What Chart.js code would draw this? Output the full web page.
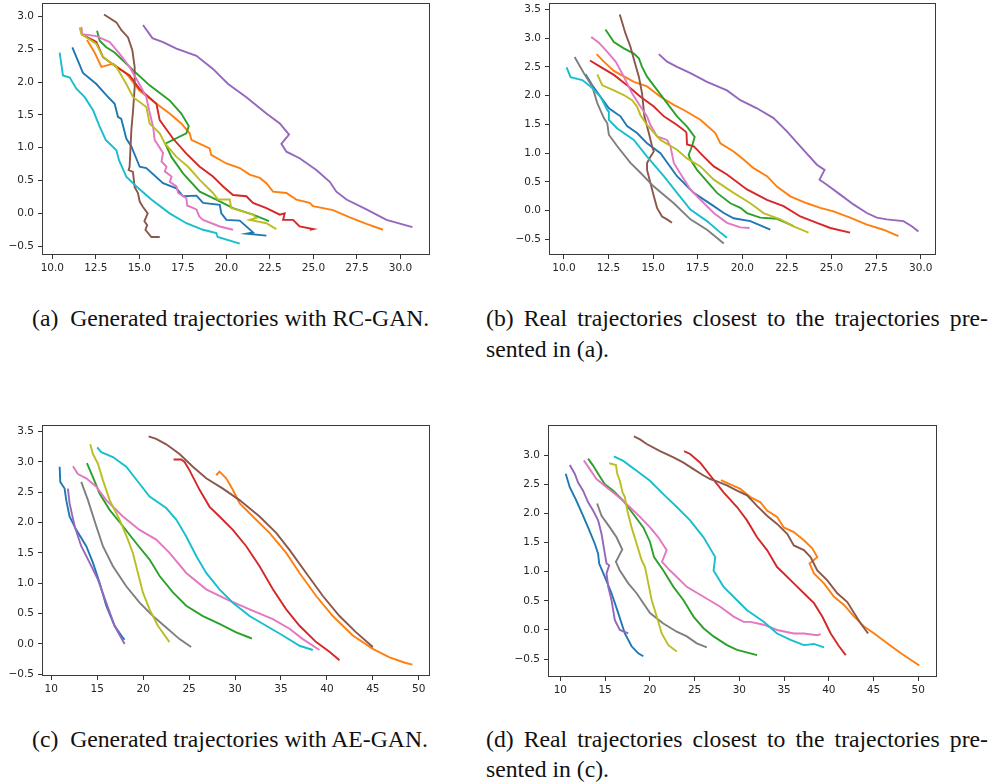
<!DOCTYPE html>
<html><head><meta charset="utf-8">
<script src="https://cdn.jsdelivr.net/npm/chart.js@4.4.1/dist/chart.umd.min.js"></script>
<style>
html,body{margin:0;padding:0;background:#fff;width:994px;height:782px;overflow:hidden}
body{position:relative}
canvas{position:absolute}
.cap{position:absolute;font-family:'Liberation Serif','Times New Roman',serif;font-size:23.7px;line-height:30px;color:#111;white-space:nowrap}
.just{white-space:normal;text-align:justify;text-align-last:justify}
</style></head><body>
<div class="cap" style="left:32px;top:303px;">(a)&ensp;Generated trajectories with RC-GAN.</div>
<div class="cap just" style="left:486px;top:303px;width:502px;">(b) Real trajectories closest to the trajectories pre-</div>
<div class="cap" style="left:486px;top:334px;">sented in (a).</div>
<div class="cap" style="left:32px;top:724px;">(c)&ensp;Generated trajectories with AE-GAN.</div>
<div class="cap just" style="left:486px;top:724px;width:502px;">(d) Real trajectories closest to the trajectories pre-</div>
<div class="cap" style="left:486px;top:754px;">sented in (c).</div>
<script>
// ---------- tick values & labels ----------
const abXTicks = [10, 12.5, 15, 17.5, 20, 22.5, 25, 27.5, 30];
const abXLabels = ['10.0','12.5','15.0','17.5','20.0','22.5','25.0','27.5','30.0'];
const aYTicks = [-0.5, 0, 0.5, 1, 1.5, 2, 2.5, 3];
const aYLabels = ['\u22120.5','0.0','0.5','1.0','1.5','2.0','2.5','3.0'];
const bcYTicks = [-0.5, 0, 0.5, 1, 1.5, 2, 2.5, 3, 3.5];
const bcYLabels = ['\u22120.5','0.0','0.5','1.0','1.5','2.0','2.5','3.0','3.5'];
const cdXTicks = [10, 15, 20, 25, 30, 35, 40, 45, 50];
const cdXLabels = ['10','15','20','25','30','35','40','45','50'];
const dYTicks = [-0.5, 0, 0.5, 1, 1.5, 2, 2.5, 3];
const dYLabels = ['\u22120.5','0.0','0.5','1.0','1.5','2.0','2.5','3.0'];

// ---------- (a) generated with RC-GAN ----------
const aBlue = [[11.15,2.53],[11.76,2.14],[12.53,1.97],[13.1,1.8],[13.58,1.67],[13.77,1.47],[13.96,1.44],[14.25,1.14],[14.54,1.02],[15.02,0.71],[15.4,0.69],[16.36,0.46],[17.13,0.38],[17.51,0.26],[18.28,0.27],[18.66,0.16],[19.62,0.13],[19.71,0.0],[20.0,-0.1],[20.77,-0.11],[21.53,-0.29],[21.15,-0.31],[22.3,-0.34]];
const aOrange = [[11.99,2.64],[12.43,2.45],[12.82,2.23],[13.49,2.28],[14.25,2.13],[15.0,1.87],[15.98,1.67],[16.74,1.52],[17.41,1.37],[17.89,1.22],[17.99,1.12],[19.04,0.99],[19.13,0.89],[20.0,0.76],[20.77,0.69],[21.34,0.59],[21.92,0.54],[22.3,0.46],[22.68,0.33],[23.45,0.31],[24.02,0.21],[24.79,0.16],[24.98,0.11],[26.13,0.05],[27.09,-0.06],[28.05,-0.16],[29.0,-0.25]];
const aGreen = [[12.57,2.78],[12.72,2.63],[13.1,2.53],[13.58,2.45],[14.64,2.18],[15.59,1.95],[16.74,1.72],[17.41,1.52],[17.84,1.33],[17.7,1.22],[16.49,1.06],[16.84,0.86],[17.51,0.61],[18.47,0.33],[19.42,0.21],[20.38,0.08],[21.53,-0.02],[22.45,-0.12]];
const aRed = [[11.67,2.73],[12.53,2.61],[12.91,2.38],[13.68,2.23],[14.44,2.1],[15.0,1.9],[15.98,1.67],[16.17,1.42],[16.93,1.14],[17.7,0.91],[18.47,0.71],[19.23,0.56],[19.81,0.41],[20.38,0.28],[21.15,0.26],[21.53,0.16],[22.3,0.08],[23.07,-0.02],[23.35,0.0],[23.26,-0.1],[23.83,-0.1],[24.21,-0.2],[24.98,-0.24],[24.79,-0.25]];
const aPurple = [[15.21,2.87],[15.75,2.67],[16.36,2.61],[17.13,2.51],[18.28,2.4],[19.23,2.2],[20.1,1.97],[21.15,1.77],[22.3,1.52],[23.07,1.37],[23.6,1.2],[23.16,1.06],[23.45,0.94],[24.21,0.84],[25.17,0.66],[25.94,0.48],[26.32,0.33],[26.9,0.21],[28.05,0.06],[29.2,-0.1],[30.69,-0.21]];
const aBrown = [[12.97,3.03],[13.68,2.91],[13.97,2.79],[14.35,2.68],[14.6,2.48],[14.73,2.23],[14.73,1.92],[14.64,1.57],[14.54,1.27],[14.44,0.71],[14.38,0.66],[14.63,0.63],[14.73,0.4],[14.92,0.31],[15.02,0.18],[15.2,0.1],[15.48,0.0],[15.29,-0.12],[15.45,-0.18],[15.35,-0.25],[15.69,-0.36],[16.17,-0.36]];
const aPink = [[11.67,2.84],[11.72,2.73],[12.53,2.7],[13.3,2.61],[13.87,2.43],[14.44,2.23],[15.0,1.97],[15.4,1.77],[15.56,1.57],[15.79,1.32],[15.88,1.12],[16.36,0.92],[16.27,0.79],[16.56,0.71],[16.46,0.64],[16.85,0.56],[16.75,0.48],[17.13,0.41],[17.23,0.31],[17.7,0.23],[17.75,0.12],[18.28,0.06],[18.45,-0.05],[18.66,-0.1],[19.62,-0.2],[20.38,-0.25]];
const aOlive = [[11.57,2.83],[11.67,2.73],[12.53,2.58],[12.91,2.38],[13.68,2.23],[14.25,1.97],[14.64,1.77],[15.4,1.62],[15.59,1.37],[16.17,1.22],[16.46,1.07],[17.13,0.86],[17.8,0.71],[18.47,0.51],[19.23,0.31],[19.52,0.21],[20.19,0.21],[20.28,0.08],[21.53,-0.02],[21.72,-0.07],[21.34,-0.1],[22.3,-0.15],[22.87,-0.24]];
const aCyan = [[10.42,2.45],[10.61,2.1],[11.0,2.07],[11.38,1.9],[11.86,1.77],[12.34,1.57],[12.72,1.32],[13.07,1.12],[13.68,0.96],[13.83,0.81],[14.25,0.56],[14.83,0.41],[15.69,0.21],[16.74,0.0],[17.7,-0.15],[18.66,-0.25],[19.42,-0.3],[19.5,-0.36],[20.77,-0.46]];

// ---------- (b) real, closest to (a) ----------
const bBlue = [[11.21,2.37],[11.59,2.18],[12.05,1.98],[12.52,1.78],[13.17,1.64],[13.54,1.47],[14.1,1.35],[14.66,1.17],[15.41,1.0],[16.34,0.6],[17.28,0.31],[18.4,0.08],[18.96,-0.04],[19.51,-0.13],[20.45,-0.18],[21.57,-0.33]];
const bOrange = [[11.83,2.72],[12.24,2.59],[12.8,2.43],[13.92,2.24],[14.66,2.16],[15.41,1.98],[16.16,1.84],[16.72,1.75],[17.65,1.58],[18.49,1.35],[18.77,1.17],[19.51,1.03],[20.07,0.89],[20.63,0.74],[21.38,0.6],[21.94,0.42],[22.69,0.25],[23.62,0.13],[24.37,0.05],[25.11,-0.01],[26.04,-0.12],[26.98,-0.24],[27.91,-0.33],[28.75,-0.44]];
const bGreen = [[12.33,3.15],[12.8,2.93],[13.36,2.82],[13.92,2.73],[14.2,2.65],[14.38,2.5],[14.66,2.33],[15.22,2.1],[15.78,1.87],[16.34,1.64],[16.9,1.46],[17.33,1.28],[17.18,1.12],[16.99,0.97],[17.09,0.89],[17.46,0.71],[18.02,0.51],[18.58,0.31],[19.33,0.13],[19.89,0.05],[20.26,-0.04],[21.0,-0.12],[21.94,-0.14],[22.69,-0.24],[22.87,-0.27]];
const bRed = [[11.46,2.61],[12.05,2.5],[12.8,2.36],[13.54,2.18],[14.29,1.98],[15.04,1.81],[15.6,1.64],[16.34,1.49],[16.81,1.38],[16.87,1.35],[16.9,1.15],[17.28,1.12],[17.84,0.94],[18.4,0.77],[19.14,0.63],[20.26,0.37],[21.38,0.19],[22.31,0.08],[23.25,-0.1],[24.18,-0.21],[24.93,-0.3],[26.04,-0.38]];
const bPurple = [[15.32,2.72],[15.78,2.59],[16.34,2.5],[17.09,2.39],[18.02,2.24],[19.14,2.09],[19.89,1.92],[20.82,1.78],[21.75,1.61],[22.5,1.38],[23.25,1.12],[24.18,0.8],[24.61,0.71],[24.33,0.54],[24.74,0.45],[25.49,0.28],[26.23,0.11],[26.98,-0.04],[27.54,-0.12],[28.1,-0.15],[29.03,-0.18],[29.5,-0.27],[29.87,-0.36]];
const bBrown = [[13.13,3.41],[13.45,3.08],[13.73,2.85],[13.96,2.59],[14.2,2.33],[14.38,2.04],[14.51,1.64],[14.76,1.35],[14.94,1.12],[15.04,1.03],[14.85,0.94],[14.66,0.83],[14.66,0.71],[14.85,0.48],[15.04,0.25],[15.22,0.05],[15.5,-0.1],[15.78,-0.15],[16.06,-0.21]];
const bPink = [[11.53,3.02],[11.96,2.92],[12.43,2.76],[12.9,2.59],[13.36,2.33],[13.82,2.04],[14.29,1.81],[14.66,1.64],[14.85,1.49],[15.22,1.29],[15.78,1.23],[15.97,1.12],[16.16,0.83],[16.62,0.6],[17.09,0.37],[17.65,0.19],[18.4,-0.04],[19.14,-0.21],[19.89,-0.29],[20.41,-0.3]];
const bGray = [[10.6,2.67],[11.12,2.39],[11.59,2.16],[11.87,1.87],[12.24,1.61],[12.43,1.52],[12.52,1.32],[12.99,1.12],[13.73,0.83],[14.29,0.66],[15.04,0.42],[16.16,0.13],[17.09,-0.15],[18.02,-0.33],[18.96,-0.57]];
const bOlive = [[11.87,2.37],[12.15,2.18],[12.8,2.09],[13.36,2.01],[13.82,1.92],[14.1,1.81],[14.29,1.66],[14.66,1.49],[15.41,1.23],[16.34,1.06],[16.9,0.91],[17.65,0.77],[18.4,0.54],[19.51,0.31],[20.45,0.13],[21.19,-0.04],[22.13,-0.15],[22.87,-0.27],[23.71,-0.38]];
const bCyan = [[10.15,2.49],[10.37,2.32],[11.03,2.27],[11.49,2.16],[12.05,1.98],[12.43,1.75],[12.52,1.72],[12.52,1.58],[12.99,1.43],[13.92,1.23],[14.66,0.94],[15.6,0.6],[16.34,0.31],[17.09,0.02],[18.02,-0.18],[18.77,-0.38],[19.14,-0.47]];

// ---------- (c) generated with AE-GAN ----------
const cBlue = [[10.91,2.92],[10.98,2.67],[11.45,2.56],[11.63,2.37],[11.99,2.1],[12.72,1.88],[13.81,1.61],[14.53,1.34],[15.26,1.01],[15.98,0.63],[16.89,0.3],[17.62,0.14],[17.98,0.07]];
const cOrange = [[27.95,2.78],[28.31,2.84],[29.04,2.73],[29.76,2.54],[30.49,2.32],[31.94,2.1],[33.75,1.83],[35.57,1.5],[37.02,1.17],[38.83,0.79],[40.64,0.46],[42.82,0.14],[45.0,-0.08],[46.81,-0.22],[48.5,-0.31],[49.3,-0.34]];
const cGreen = [[13.88,2.98],[14.53,2.75],[15.26,2.48],[16.35,2.21],[17.8,1.94],[19.25,1.66],[20.7,1.39],[21.79,1.12],[23.24,0.85],[24.69,0.63],[26.5,0.46],[28.31,0.33],[30.13,0.19],[31.83,0.09]];
const cRed = [[23.31,3.04],[24.14,3.04],[24.51,3.0],[25.05,2.86],[26.14,2.54],[27.23,2.26],[28.31,2.1],[29.76,1.88],[31.22,1.61],[32.67,1.28],[34.12,0.9],[35.57,0.57],[37.02,0.3],[38.83,0.03],[40.28,-0.13],[41.37,-0.27]];
const cPurple = [[11.81,2.56],[11.99,2.32],[12.54,1.94],[13.26,1.61],[14.17,1.34],[15.08,1.06],[15.98,0.68],[16.89,0.3],[17.98,0.0]];
const cBrown = [[20.59,3.42],[21.42,3.38],[22.51,3.29],[23.96,3.13],[25.41,2.92],[26.86,2.73],[28.68,2.56],[30.49,2.37],[32.67,2.1],[34.48,1.83],[35.93,1.55],[37.74,1.17],[39.56,0.79],[41.37,0.46],[43.18,0.19],[45.0,-0.05]];
const cPink = [[12.36,2.93],[12.9,2.8],[13.81,2.73],[14.9,2.59],[15.98,2.37],[17.8,2.1],[19.61,1.88],[21.42,1.72],[22.87,1.5],[24.69,1.17],[26.86,0.9],[29.04,0.74],[31.58,0.57],[34.12,0.41],[35.93,0.25],[37.38,0.08],[39.19,-0.1]];
const cGray = [[13.26,2.67],[13.99,2.37],[14.9,1.94],[15.62,1.61],[16.71,1.28],[18.16,0.95],[19.61,0.68],[21.06,0.46],[22.51,0.27],[23.96,0.08],[25.23,-0.05]];
const cOlive = [[14.24,3.29],[14.53,3.13],[15.08,2.97],[15.62,2.7],[16.35,2.37],[17.43,2.05],[18.34,1.72],[18.88,1.5],[19.43,1.17],[19.97,0.85],[20.7,0.57],[21.6,0.3],[22.87,0.03]];
const cCyan = [[15.0,3.24],[15.44,3.16],[16.71,3.08],[18.16,2.92],[19.61,2.64],[20.7,2.43],[22.51,2.24],[23.6,2.05],[24.69,1.77],[25.78,1.45],[26.86,1.17],[28.31,0.9],[29.76,0.68],[31.58,0.46],[33.39,0.3],[35.2,0.14],[37.02,-0.03],[38.47,-0.1]];

// ---------- (d) real, closest to (c) ----------
const dBlue = [[10.6,2.68],[11.05,2.45],[11.79,2.22],[12.36,2.02],[13.1,1.76],[13.85,1.48],[14.22,1.31],[14.34,1.14],[14.97,0.91],[15.72,0.63],[16.47,0.29],[17.21,-0.06],[17.96,-0.28],[18.71,-0.4],[19.27,-0.45]];
const dOrange = [[27.94,2.57],[28.99,2.5],[30.11,2.42],[31.23,2.28],[32.36,2.19],[33.1,2.05],[34.22,1.94],[34.97,1.76],[36.09,1.68],[37.21,1.54],[38.15,1.4],[38.71,1.25],[37.85,1.14],[38.34,0.97],[39.46,0.8],[40.58,0.57],[41.7,0.43],[42.82,0.23],[43.94,0.06],[45.07,-0.06],[46.56,-0.23],[48.06,-0.4],[50.11,-0.61]];
const dGreen = [[13.1,2.94],[13.66,2.82],[14.22,2.68],[14.97,2.5],[15.91,2.39],[17.03,2.22],[18.15,1.99],[19.27,1.76],[20.02,1.51],[20.47,1.25],[21.51,1.02],[22.64,0.74],[23.76,0.51],[24.88,0.23],[26.0,0.03],[27.12,-0.11],[28.62,-0.26],[29.74,-0.34],[31.23,-0.4],[31.98,-0.43]];
const dRed = [[23.83,3.07],[24.5,3.02],[25.63,2.87],[26.75,2.65],[28.24,2.36],[29.74,2.11],[30.86,1.88],[31.98,1.59],[33.1,1.37],[34.22,1.08],[34.97,0.97],[36.09,0.8],[37.21,0.63],[38.34,0.46],[39.27,0.23],[40.21,-0.06],[41.14,-0.28],[41.89,-0.43]];
const dPurple = [[11.05,2.83],[11.61,2.68],[11.98,2.53],[12.54,2.39],[13.1,2.19],[13.66,2.05],[14.22,1.88],[14.6,1.65],[14.97,1.31],[15.16,1.14],[15.46,1.11],[15.16,0.97],[15.35,0.74],[15.72,0.51],[16.09,0.17],[16.65,0.0],[17.59,-0.06]];
const dBrown = [[18.22,3.32],[18.9,3.27],[19.65,3.19],[21.14,3.07],[22.64,2.96],[23.76,2.87],[24.88,2.76],[26.0,2.65],[26.75,2.59],[27.5,2.55],[28.62,2.48],[29.74,2.39],[30.86,2.31],[31.98,2.13],[33.1,1.96],[34.22,1.82],[35.35,1.65],[36.09,1.45],[37.21,1.37],[37.96,1.25],[38.71,1.02],[39.83,0.85],[40.95,0.63],[42.07,0.48],[42.82,0.29],[43.57,0.11],[44.39,-0.06]];
const dPink = [[12.62,2.91],[13.29,2.76],[14.04,2.59],[15.16,2.45],[16.28,2.31],[17.4,2.16],[18.9,1.94],[20.02,1.76],[20.95,1.59],[21.88,1.37],[21.36,1.17],[22.26,1.02],[23.01,0.91],[24.13,0.74],[26.0,0.57],[27.87,0.4],[29.36,0.23],[30.49,0.14],[31.23,0.14],[32.73,0.09],[34.22,0.0],[36.09,-0.06],[37.21,-0.06],[38.71,-0.09],[39.1,-0.07]];
const dGray = [[14.11,2.17],[14.6,1.96],[15.53,1.76],[16.28,1.59],[16.92,1.38],[16.21,1.17],[16.65,1.02],[17.59,0.8],[18.52,0.63],[20.02,0.29],[21.51,0.11],[23.01,-0.03],[24.13,-0.11],[25.25,-0.23],[26.37,-0.3]];
const dOlive = [[15.46,2.86],[16.21,2.83],[16.36,2.68],[16.65,2.56],[16.95,2.36],[17.21,2.28],[17.48,2.05],[17.96,1.76],[18.52,1.48],[19.08,1.2],[19.46,1.08],[19.83,0.8],[20.21,0.51],[20.77,0.23],[21.33,-0.06],[22.07,-0.26],[23.01,-0.37]];
const dCyan = [[15.98,2.98],[17.03,2.9],[18.52,2.73],[20.02,2.56],[21.51,2.33],[23.01,2.11],[24.5,1.88],[26.0,1.59],[27.31,1.25],[27.12,1.02],[28.24,0.74],[29.74,0.51],[30.86,0.34],[32.73,0.14],[34.22,-0.06],[35.72,-0.17],[37.21,-0.26],[38.34,-0.24],[39.46,-0.3]];

const COLORS = {blue:'#1f77b4', orange:'#ff7f0e', green:'#2ca02c', red:'#d62728', purple:'#9467bd',
  brown:'#8c564b', pink:'#e377c2', gray:'#7f7f7f', olive:'#bcbd22', cyan:'#17becf'};

const frameBox = {
  id: 'frameBox',
  afterDraw(chart) {
    const {ctx, chartArea: a} = chart;
    ctx.save();
    ctx.strokeStyle = '#3a3a3a';
    ctx.lineWidth = 1;
    const l = Math.round(a.left) + 0.5, t = Math.round(a.top) + 0.5;
    const r = Math.round(a.right) - 0.5, b = Math.round(a.bottom) - 0.5;
    ctx.strokeRect(l, t, r - l, b - t);
    ctx.restore();
  }
};

function makePanel(frame, xr, yr, xTicks, xLabels, yTicks, yLabels, series) {
  const padL = 44, padT = 14, padR = 24, padB = 28;
  const w = frame.R - frame.L + padL + padR, h = frame.B - frame.T + padT + padB;
  const c = document.createElement('canvas');
  c.width = w; c.height = h;
  c.style.width = w + 'px'; c.style.height = h + 'px';
  c.style.left = (frame.L - padL) + 'px'; c.style.top = (frame.T - padT) + 'px';
  document.body.appendChild(c);
  const tickFont = {family: "'DejaVu Sans', sans-serif", size: 10.5};
  const datasets = series.map(([name, pts]) => ({
    data: pts.map(([x, y]) => ({x, y})),
    borderColor: COLORS[name], backgroundColor: COLORS[name],
    showLine: true, pointRadius: 0, borderWidth: 1.9, tension: 0, fill: false
  })).reverse();
  new Chart(c, {
    type: 'scatter',
    data: {datasets},
    options: {
      responsive: false, animation: false, devicePixelRatio: 1,
      layout: {padding: {top: padT, right: padR, left: 0, bottom: 0}},
      plugins: {legend: {display: false}, tooltip: {enabled: false}},
      scales: {
        x: {
          type: 'linear', min: xr[0], max: xr[1],
          afterBuildTicks: s => { s.ticks = xTicks.map(v => ({value: v})); },
          afterFit: s => { s.height = padB; },
          ticks: {autoSkip: false, maxRotation: 0, minRotation: 0, padding: 3, color: '#262626', font: tickFont,
                  callback: (v, i) => xLabels[i]},
          grid: {drawOnChartArea: false, drawTicks: true, tickLength: 4, color: '#333'},
          border: {display: false}
        },
        y: {
          type: 'linear', min: yr[0], max: yr[1],
          afterBuildTicks: s => { s.ticks = yTicks.map(v => ({value: v})); },
          afterFit: s => { s.width = padL; },
          ticks: {autoSkip: false, padding: 4, color: '#262626', font: tickFont,
                  callback: (v, i) => yLabels[i]},
          grid: {drawOnChartArea: false, drawTicks: true, tickLength: 4, color: '#333'},
          border: {display: false}
        }
      }
    },
    plugins: [frameBox]
  });
}

makePanel({L: 42, T: 3, R: 430, B: 255}, [9.406, 31.70], [-0.6345, 3.2045], abXTicks, abXLabels, aYTicks, aYLabels,
  [['blue', aBlue], ['orange', aOrange], ['green', aGreen], ['red', aRed], ['purple', aPurple],
   ['brown', aBrown], ['pink', aPink], ['olive', aOlive], ['cyan', aCyan]]);
makePanel({L: 549, T: 3, R: 936, B: 255}, [9.164, 30.856], [-0.769, 3.609], abXTicks, abXLabels, bcYTicks, bcYLabels,
  [['blue', bBlue], ['orange', bOrange], ['green', bGreen], ['red', bRed], ['purple', bPurple],
   ['brown', bBrown], ['pink', bPink], ['gray', bGray], ['olive', bOlive], ['cyan', bCyan]]);
makePanel({L: 42, T: 425, R: 430, B: 676}, [8.99, 51.22], [-0.528, 3.608], cdXTicks, cdXLabels, bcYTicks, bcYLabels,
  [['blue', cBlue], ['orange', cOrange], ['green', cGreen], ['red', cRed], ['purple', cPurple],
   ['brown', cBrown], ['pink', cPink], ['gray', cGray], ['olive', cOlive], ['cyan', cCyan]]);
makePanel({L: 548, T: 425, R: 937, B: 677}, [8.62, 52.09], [-0.8065, 3.5165], cdXTicks, cdXLabels, dYTicks, dYLabels,
  [['blue', dBlue], ['orange', dOrange], ['green', dGreen], ['red', dRed], ['purple', dPurple],
   ['brown', dBrown], ['pink', dPink], ['gray', dGray], ['olive', dOlive], ['cyan', dCyan]]);
</script>
</body></html>
